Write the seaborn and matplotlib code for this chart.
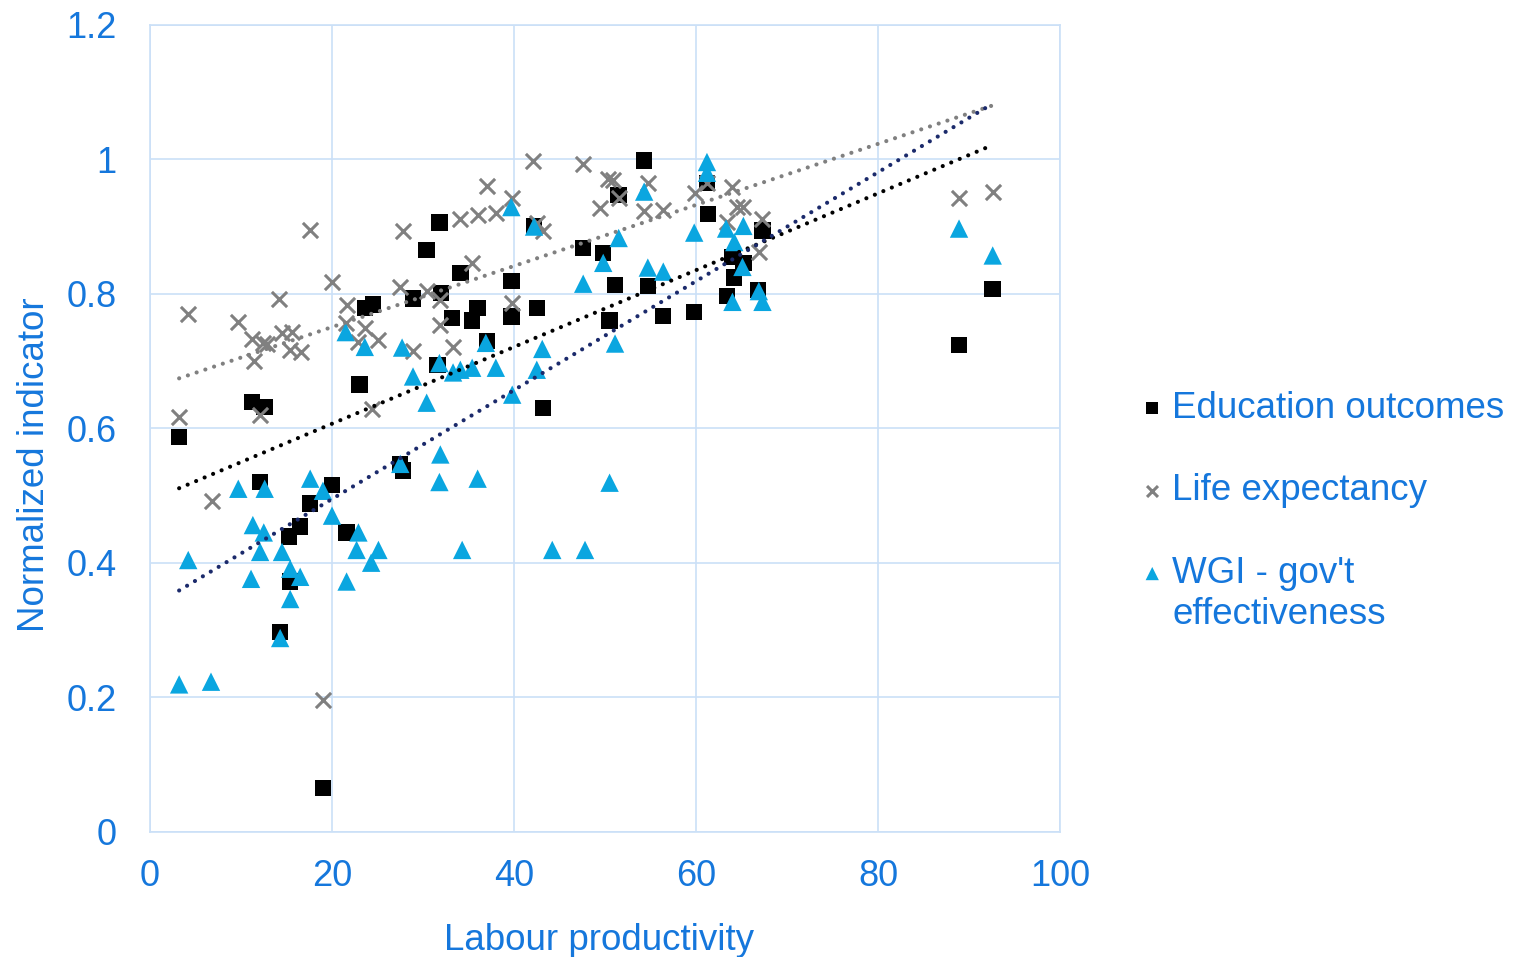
import numpy as np
import pandas as pd
import matplotlib
matplotlib.use("Agg")
import matplotlib.pyplot as plt
import seaborn as sns

# values
edu_x = [3.2, 11.2, 12.6, 12.1, 15.3, 15.4, 16.5, 14.3, 17.6, 20.0, 19.0, 21.6, 23.0,
         23.6, 24.5, 28.9, 30.4, 31.8, 32.0, 31.6, 33.2, 34.1, 35.4, 36.0, 37.0, 39.7,
         39.7, 27.5, 27.8, 42.5, 42.2, 43.2, 47.6, 49.8, 50.5, 51.1, 51.5, 54.3, 54.7,
         56.4, 59.8, 61.2, 61.3, 63.4, 64.0, 65.2, 64.2, 66.8, 67.3, 88.9, 92.6]
edu_y = [0.587, 0.639, 0.632, 0.520, 0.439, 0.372, 0.454, 0.297, 0.488, 0.516, 0.065,
         0.445, 0.665, 0.779, 0.784, 0.793, 0.865, 0.906, 0.801, 0.694, 0.764, 0.831,
         0.760, 0.779, 0.730, 0.819, 0.766, 0.546, 0.537, 0.779, 0.900, 0.630, 0.868,
         0.861, 0.760, 0.813, 0.947, 0.998, 0.812, 0.767, 0.773, 0.965, 0.919, 0.797,
         0.855, 0.846, 0.824, 0.806, 0.894, 0.724, 0.807]

life_x = [3.2, 4.2, 6.8, 9.7, 11.2, 11.4, 12.4, 12.9, 12.1, 14.2, 14.5, 15.6, 15.4, 16.6,
          17.6, 20.0, 21.6, 21.5, 23.6, 22.9, 25.1, 24.4, 19.0, 27.5, 27.8, 28.9, 30.4,
          31.9, 31.9, 33.3, 34.1, 36.0, 35.4, 37.0, 38.0, 39.8, 39.8, 42.1, 42.5, 43.2,
          47.6, 49.5, 50.3, 50.9, 51.5, 54.7, 54.3, 56.4, 59.9, 61.2, 64.0, 64.5, 65.2,
          63.4, 67.3, 66.9, 88.9, 92.6]
life_y = [0.617, 0.770, 0.492, 0.758, 0.733, 0.700, 0.727, 0.726, 0.620, 0.793, 0.742,
          0.743, 0.717, 0.714, 0.895, 0.818, 0.784, 0.757, 0.749, 0.729, 0.732, 0.629,
          0.196, 0.810, 0.894, 0.715, 0.804, 0.791, 0.754, 0.721, 0.912, 0.917, 0.846,
          0.961, 0.920, 0.943, 0.787, 0.998, 0.906, 0.894, 0.993, 0.928, 0.971, 0.970,
          0.943, 0.965, 0.923, 0.925, 0.950, 0.965, 0.959, 0.929, 0.929, 0.907, 0.912,
          0.862, 0.943, 0.952]

wgi_x = [3.2, 4.2, 6.7, 9.7, 11.3, 11.1, 12.6, 12.5, 12.1, 14.5, 14.3, 15.4, 16.5, 15.4,
         17.6, 19.0, 20.0, 22.9, 22.7, 25.1, 24.3, 21.6, 21.5, 23.6, 27.7, 28.9, 30.4,
         31.8, 33.3, 34.1, 35.4, 38.0, 36.9, 43.1, 42.5, 39.8, 39.7, 42.2, 27.5, 31.9,
         31.8, 36.0, 50.5, 34.3, 44.2, 47.8, 47.6, 49.8, 51.1, 51.5, 54.3, 54.7, 56.4,
         59.8, 61.2, 61.2, 63.3, 65.2, 64.2, 65.1, 66.9, 64.0, 67.3, 88.9, 92.6]
wgi_y = [0.219, 0.404, 0.223, 0.510, 0.456, 0.376, 0.510, 0.445, 0.416, 0.416, 0.288,
         0.391, 0.379, 0.346, 0.525, 0.507, 0.470, 0.445, 0.419, 0.419, 0.400, 0.372,
         0.743, 0.721, 0.720, 0.677, 0.638, 0.697, 0.683, 0.687, 0.690, 0.690, 0.727,
         0.718, 0.687, 0.650, 0.929, 0.900, 0.547, 0.561, 0.520, 0.525, 0.519, 0.419,
         0.419, 0.419, 0.815, 0.846, 0.726, 0.883, 0.952, 0.839, 0.833, 0.891, 0.996,
         0.980, 0.897, 0.901, 0.877, 0.840, 0.804, 0.788, 0.788, 0.897, 0.857]

labels = ["Education outcomes", "Life expectancy", "WGI - gov't"]
label_wrap = "effectiveness"

# %%
blue_txt = "#1577dc"
grid_c = "#cbe0f7"
fs = 26
fs_leg = 26.5

sns.set_style("white")
plt.rcParams["font.family"] = ["Liberation Sans", "DejaVu Sans"]

fig = plt.figure(figsize=(15.2, 9.57), dpi=100)
ax = fig.add_axes([0.0987, 0.131, 0.5987, 0.843])

series = [
    (edu_x, edu_y, dict(marker="s", color="black", s=140, edgecolor="none"), "black"),
    (life_x, life_y, dict(marker="x", color="#808080", s=120, linewidth=2.2), "#808080"),
    (wgi_x, wgi_y, dict(marker="^", color="#0aa6e0", s=175, edgecolor="none"), "#1b2a6b"),
]

for (xs, ys, kw, tcol), lab in zip(series, labels):
    df = pd.DataFrame({"x": xs, "y": ys})
    sns.scatterplot(data=df, x="x", y="y", ax=ax, label=lab, zorder=3, **kw)

for (xs, ys, kw, tcol), lab in zip(series, labels):
    df = pd.DataFrame({"x": xs, "y": ys})
    sns.regplot(data=df, x="x", y="y", ax=ax, scatter=False, ci=None, truncate=True,
                line_kws=dict(color=tcol, linestyle=(0, (0.01, 2.2)), linewidth=3.0,
                              dash_capstyle="round", zorder=4))

ax.set_xlim(0, 100)
ax.set_ylim(0, 1.2)
ax.set_xticks(np.arange(0, 101, 20))
ax.set_yticks(np.arange(0, 1.21, 0.2))
ax.set_yticklabels(["0", "0.2", "0.4", "0.6", "0.8", "1", "1.2"])
ax.grid(True, color=grid_c, linewidth=1.2)
for sp in ax.spines.values():
    sp.set_color(grid_c)
    sp.set_linewidth(1.2)
ax.tick_params(axis="both", length=0, labelsize=fs, labelcolor=blue_txt)
ax.tick_params(axis="y", pad=24)
ax.tick_params(axis="x", pad=20)
ax.set_xlabel("Labour productivity", fontsize=fs + 0.5, color=blue_txt)
ax.set_ylabel("Normalized indicator", fontsize=fs + 0.5, color=blue_txt)
ax.xaxis.set_label_coords(0.493, -0.113)
ax.yaxis.set_label_coords(-0.108, 0.455)

leg = ax.legend(loc="upper left", bbox_to_anchor=(1.073, 0.565), frameon=False,
                fontsize=fs_leg, labelspacing=1.3, handletextpad=0.25, handlelength=0.6,
                markerscale=0.72, borderaxespad=0)
for t in leg.get_texts():
    t.set_color(blue_txt)

# second line of the WGI label, under its first line
fig.canvas.draw()
bb = leg.get_texts()[2].get_window_extent().transformed(fig.transFigure.inverted())
fig.text(bb.x0, bb.y0 - 0.006, label_wrap, fontsize=fs_leg, color=blue_txt,
         ha="left", va="top")

plt.savefig("out.png", dpi=100)
